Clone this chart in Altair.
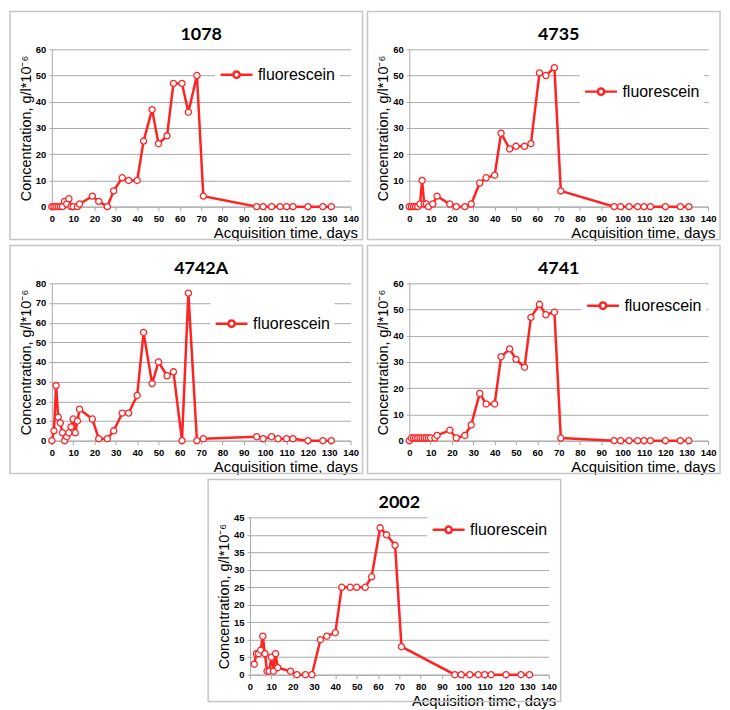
import altair as alt
import pandas as pd

# ---------------- data ----------------
titles = ["1078", "4735", "4742A", "4741", "2002"]

days_1078 = [0, 1, 2, 3, 4, 5, 6, 7, 8, 9, 10, 12, 13, 19, 22, 26, 29, 33, 36, 40, 43, 47, 50, 54, 57,
             61, 64, 68, 71, 96, 99, 103, 107, 110, 113, 120, 127, 131]
conc_1078 = [0, 0, 0, 0, 0, 0, 2, 1, 3, 0, 0, 0, 1, 4, 2, 0, 6, 11, 10, 10, 25, 37, 24, 27, 47,
             47, 36, 50, 4, 0, 0, 0, 0, 0, 0, 0, 0, 0]

days_4735 = [0, 1, 2, 3, 4, 5, 6, 7, 8, 9, 11, 13, 19, 22, 26, 29, 33, 36, 40, 43, 47, 50, 54, 57,
             61, 64, 68, 71, 96, 99, 103, 107, 110, 113, 120, 127, 131]
conc_4735 = [0, 0, 0, 0, 0, 1, 10, 1, 1, 0, 1, 4, 1, 0, 0, 1, 9, 11, 12, 28, 22, 23, 23, 24,
             51, 50, 53, 6, 0, 0, 0, 0, 0, 0, 0, 0, 0]

days_4742a = [0, 1, 2, 3, 4, 5, 6, 7, 8, 9, 10, 11, 12, 13, 19, 22, 26, 29, 33, 36, 40, 43, 47, 50,
              54, 57, 61, 64, 68, 71, 96, 99, 103, 106, 110, 113, 120, 127, 131]
conc_4742a = [0, 5, 28, 12, 9, 4, 0, 2, 4, 7, 11, 4, 10, 16, 11, 1, 1, 5, 14, 14, 23, 55, 29, 40,
              33, 35, 0, 75, 0, 1, 2, 1, 2, 1, 1, 1, 0, 0, 0]

days_4741 = [0, 1, 2, 3, 4, 5, 6, 7, 8, 9, 10, 12, 13, 19, 22, 26, 29, 33, 36, 40, 43, 47, 50, 54, 57,
             61, 64, 68, 71, 96, 99, 103, 107, 110, 113, 120, 127, 131]
conc_4741 = [0, 1, 1, 1, 1, 1, 1, 1, 1, 1, 1, 1, 2, 4, 1, 2, 6, 18, 14, 14, 32, 35, 31, 28, 47,
             52, 48, 49, 1, 0, 0, 0, 0, 0, 0, 0, 0, 0]

days_2002 = [2, 3, 4, 5, 6, 7, 8, 9, 10, 11, 12, 13, 19, 22, 26, 29, 33, 36, 40, 43, 47, 50, 54, 57,
             61, 64, 68, 71, 96, 99, 103, 107, 110, 113, 120, 127, 131]
conc_2002 = [3, 6, 6, 7, 11, 6, 1, 1, 5, 1, 6, 2, 1, 0, 0, 0, 10, 11, 12, 25, 25, 25, 25, 28,
             42, 40, 37, 8, 0, 0, 0, 0, 0, 0, 0, 0, 0]

y_max = [60, 60, 80, 60, 45]
y_step = [10, 10, 10, 10, 5]
x_ticks = list(range(0, 141, 10))
series_name = "fluorescein"
x_title = "Acquisition time, days"
y_title = "Concentration, g/l*10\u207b\u2076"

# ---------------- style ----------------
W, H = 300, 158
RED = "#ff2424"
GRID = "#a8a8a8"
FONT = "Liberation Sans"
LEG_SYMBOL = ("M-1,0H-0.2M0.2,0H1M-0.2,0A0.2,0.2,0,1,0,0.2,0"
              "A0.2,0.2,0,1,0,-0.2,0Z")
legend_pos = [(164, 4), (171, 21), (159, 19), (173, 1), (178, -9)]


def panel(i, days, conc, box_bottom=33):
    df = pd.DataFrame({"day": days, "conc": conc, "series": [series_name] * len(days)})
    ymax, ystep = y_max[i], y_step[i]
    x_enc = alt.X(
        "day:Q",
        scale=alt.Scale(domain=[0, 140], nice=False, zero=True),
        axis=alt.Axis(
            values=x_ticks, format="d", grid=False, title=x_title,
            labelOverlap=False, labelFlush=False,
            titleFont=FONT, titleFontSize=15, titleFontWeight="normal", titleColor="black",
            titleAnchor="end", titleAlign="right", titleX=W + 7, titleY=19, titleBaseline="top",
            labelFont=FONT, labelFontSize=9.5, labelFontWeight="bold", labelColor="black",
            labelPadding=3, tickSize=4, tickColor=GRID, domainColor=GRID,
        ),
    )
    y_enc = alt.Y(
        "conc:Q",
        scale=alt.Scale(domain=[0, ymax], nice=False),
        axis=alt.Axis(
            values=list(range(0, ymax + 1, ystep)), format="d", grid=True, gridColor=GRID,
            gridWidth=1, title=y_title, titleFont=FONT, titleFontSize=14.5,
            labelOverlap=False, labelFlush=False,
            titleFontWeight="normal", titleColor="black", titlePadding=2,
            labelFont=FONT, labelFontSize=9.5, labelFontWeight="bold", labelColor="black",
            labelPadding=3, tickSize=3, tickColor=GRID, domainColor=GRID,
        ),
    )
    border = alt.Chart(pd.DataFrame({"a": [0]})).mark_rect(
        fill="transparent", stroke="#c6c6c6", strokeWidth=1.5
    ).encode(
        x=alt.value(-42), x2=alt.value(W + 12), y=alt.value(-38), y2=alt.value(H + box_bottom)
    )
    lx, ly = legend_pos[i]
    base = alt.Chart(df).encode(x=x_enc, y=y_enc)
    line = base.mark_line(strokeWidth=2.5).encode(
        color=alt.Color(
            "series:N",
            scale=alt.Scale(range=[RED]),
            legend=alt.Legend(
                title=None, orient="none", legendX=lx, legendY=ly,
                fillColor="white", padding=4,
                symbolType=LEG_SYMBOL, symbolSize=1024, symbolStrokeWidth=2.5,
                symbolFillColor="white", symbolStrokeColor=RED,
                labelFont=FONT, labelFontSize=16, labelColor="black", labelOffset=4,
            ),
        ),
    )
    pts = base.mark_point(
        shape="circle", filled=True, fill="white", stroke=RED, strokeWidth=1.3,
        size=38, opacity=1
    )
    return alt.layer(border, line, pts).properties(
        width=W, height=H,
        title=alt.TitleParams(
            text=titles[i], font="Lato", fontSize=18, fontWeight="bold", color="black",
            anchor="middle", frame="group", offset=-33,
        ),
    )


p1 = panel(0, days_1078, conc_1078)
p2 = panel(1, days_4735, conc_4735)
p3 = panel(2, days_4742a, conc_4742a)
p4 = panel(3, days_4741, conc_4741)
p5 = panel(4, days_2002, conc_2002, box_bottom=27)

spacer = alt.Chart(pd.DataFrame({"a": [0]})).mark_point(opacity=0, size=1).encode(
    x=alt.value(100), y=alt.value(5)
).properties(width=154, height=10)


def indep(c):
    return c.resolve_scale(color="independent").resolve_legend(color="independent")


row1 = indep(alt.hconcat(p1, p2, spacing=1))
row2 = indep(alt.hconcat(p3, p4, spacing=1))
row3 = indep(alt.hconcat(spacer, p5, spacing=0))

chart = indep(alt.vconcat(row1, row2, row3, spacing=2)).properties(
    padding=0, background="white"
).configure_view(stroke="transparent")

chart.save("out.html", embed_options={"renderer": "svg", "actions": False})
